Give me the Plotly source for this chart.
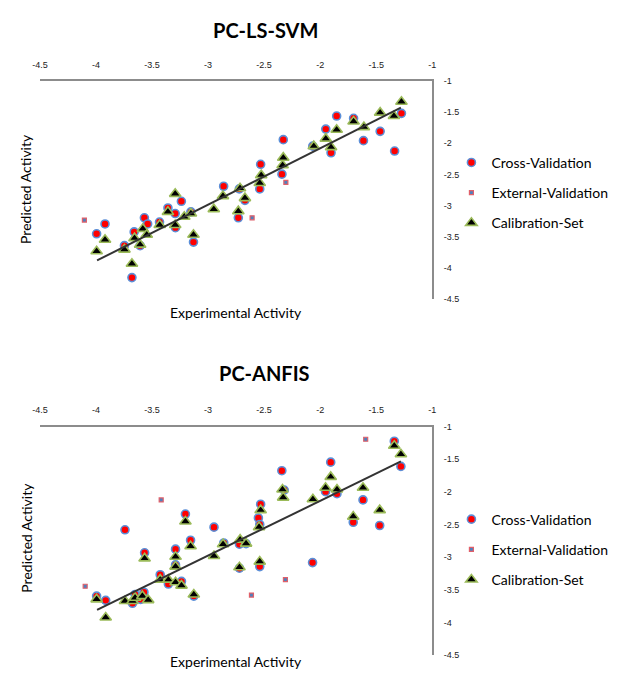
import plotly.graph_objects as go

W, H = 632, 678

# ---------------- PC-LS-SVM ----------------
svm_cv_x = [-3.919, -3.994, -3.568, -3.539, -3.659, -3.746, -3.606, -3.679, -3.433, -3.358,
            -3.293, -3.238, -3.291, -3.130, -2.861, -2.730, -2.721, -2.671, -3.153, -2.539,
            -2.531, -2.341, -2.329, -2.066, -1.903, -1.950, -1.853, -1.702, -1.614, -1.465,
            -1.336, -1.275]
svm_cv_y = [-3.295, -3.453, -3.196, -3.295, -3.422, -3.643, -3.643, -4.155, -3.264, -3.038,
            -3.128, -2.932, -3.354, -3.586, -2.690, -3.196, -2.733, -2.916, -3.101, -2.733,
            -2.338, -2.496, -1.943, -2.047, -2.153, -1.774, -1.564, -1.600, -1.959, -1.810,
            -2.126, -1.521]

svm_ext_x = [-4.103, -2.607, -2.306]
svm_ext_y = [-3.232, -3.196, -2.627]

svm_cal_x = [-3.994, -3.919, -3.746, -3.679, -3.656, -3.606, -3.582, -3.547, -3.431, -3.358,
             -3.293, -3.293, -3.212, -3.153, -3.130, -2.949, -2.867, -2.715, -2.671, -2.730,
             -2.539, -2.526, -2.335, -2.329, -2.057, -1.903, -1.950, -1.853, -1.702, -1.610,
             -1.465, -1.342, -1.275]
svm_cal_y = [-3.733, -3.548, -3.706, -3.934, -3.523, -3.627, -3.374, -3.469, -3.311, -3.101,
             -2.812, -3.311, -3.180, -3.128, -3.469, -3.058, -2.848, -2.722, -2.880, -3.090,
             -2.638, -2.512, -2.354, -2.232, -2.047, -2.063, -1.927, -1.785, -1.652, -1.742,
             -1.510, -1.564, -1.336]

svm_trend_x = [-3.99, -1.28]
svm_trend_y = [-3.88, -1.43]

# ---------------- PC-ANFIS ----------------
anfis_cv_x = [-3.994, -3.913, -3.674, -3.651, -3.601, -3.572, -3.741, -3.566, -3.427, -3.354,
              -3.290, -3.290, -3.237, -3.202, -3.156, -3.127, -2.947, -2.860, -2.720, -2.661,
              -2.720, -2.539, -2.531, -2.551, -2.539, -2.342, -2.321, -2.068, -1.952, -1.906,
              -1.850, -1.705, -1.618, -1.469, -1.339, -1.280]
anfis_cv_y = [-3.594, -3.659, -3.704, -3.569, -3.644, -3.534, -2.579, -2.931, -3.267, -3.409,
              -2.875, -3.116, -3.368, -2.338, -2.739, -3.594, -2.538, -2.780, -2.799, -2.790,
              -3.167, -3.142, -2.187, -2.398, -2.498, -1.674, -1.970, -3.081, -1.995, -1.543,
              -2.026, -2.463, -2.121, -2.513, -1.222, -1.608]

anfis_ext_x = [-4.096, -3.418, -2.613, -2.310, -1.594]
anfis_ext_y = [-3.443, -2.121, -3.579, -3.342, -1.192]

anfis_cal_x = [-3.994, -3.913, -3.741, -3.674, -3.651, -3.586, -3.534, -3.566, -3.427, -3.354,
               -3.290, -3.290, -3.290, -3.237, -3.202, -3.156, -3.127, -2.947, -2.866, -2.714,
               -2.661, -2.720, -2.539, -2.531, -2.545, -2.336, -2.330, -2.065, -1.952, -1.906,
               -1.850, -1.705, -1.618, -1.469, -1.339, -1.280]
anfis_cal_y = [-3.644, -3.922, -3.670, -3.670, -3.620, -3.594, -3.655, -3.017, -3.342, -3.342,
               -2.991, -3.142, -3.383, -3.433, -2.452, -2.830, -3.569, -2.980, -2.799, -2.730,
               -2.790, -3.152, -3.066, -2.278, -2.538, -1.961, -2.086, -2.112, -1.935, -1.769,
               -1.961, -2.377, -1.935, -2.278, -1.291, -1.422]

anfis_trend_x = [-3.99, -1.28]
anfis_trend_y = [-3.805, -1.532]

# ---------------- axes ----------------
tick_vals = [-4.5, -4, -3.5, -3, -2.5, -2, -1.5, -1]
tick_text = ["-4.5", "-4", "-3.5", "-3", "-2.5", "-2", "-1.5", "-1"]
series_names = ["Cross-Validation", "External-Validation", "Calibration-Set"]

CV_STYLE = dict(symbol="circle", size=8, color="#FF0000", line=dict(color="#5B8FD8", width=1.6))
EXT_STYLE = dict(symbol="square", size=4, color="#4F81BD", line=dict(color="#E0606A", width=1.2))
CAL_STYLE = dict(symbol="triangle-up", size=10, color="#000000", line=dict(color="#9BBB59", width=1.6))

fig = go.Figure()

def add_panel(cvx, cvy, exx, exy, clx, cly, tx, ty, xa, ya, leg):
    fig.add_trace(go.Scatter(x=cvx, y=cvy, mode="markers", name=series_names[0], marker=CV_STYLE,
                             xaxis=xa, yaxis=ya, legend=leg, legendgroup=leg + "a"))
    fig.add_trace(go.Scatter(x=exx, y=exy, mode="markers", name=series_names[1], marker=EXT_STYLE,
                             xaxis=xa, yaxis=ya, legend=leg, legendgroup=leg + "b"))
    fig.add_trace(go.Scatter(x=clx, y=cly, mode="markers", name=series_names[2], marker=CAL_STYLE,
                             xaxis=xa, yaxis=ya, legend=leg, legendgroup=leg + "c"))
    fig.add_trace(go.Scatter(x=tx, y=ty, mode="lines", line=dict(color="#333333", width=2),
                             showlegend=False, xaxis=xa, yaxis=ya, hoverinfo="skip"))

add_panel(svm_cv_x, svm_cv_y, svm_ext_x, svm_ext_y, svm_cal_x, svm_cal_y,
          svm_trend_x, svm_trend_y, "x", "y", "legend")
add_panel(anfis_cv_x, anfis_cv_y, anfis_ext_x, anfis_ext_y, anfis_cal_x, anfis_cal_y,
          anfis_trend_x, anfis_trend_y, "x2", "y2", "legend2")

AX_COMMON = dict(range=[-4.5, -1], showline=True, linecolor="#8C8C8C", linewidth=1.5,
                 showgrid=False, zeroline=False, ticks="", tickvals=tick_vals, ticktext=tick_text,
                 tickfont=dict(family="Liberation Sans", size=9, color="#222222"),
                 ticklabelstandoff=8, fixedrange=True)

xdom = [32.5 / W, 432.5 / W]
fig.update_layout(
    width=W, height=H,
    margin=dict(l=0, r=0, t=0, b=0),
    paper_bgcolor="white", plot_bgcolor="white",
    font=dict(family="Lato", color="#000000"),
    xaxis=dict(domain=xdom, anchor="y", side="top", **AX_COMMON),
    yaxis=dict(domain=[1 - 298.5 / H, 1 - 77 / H], anchor="x", side="right", **AX_COMMON),
    xaxis2=dict(domain=xdom, anchor="y2", side="top", **AX_COMMON),
    yaxis2=dict(domain=[1 - 660 / H, 1 - 428 / H], anchor="x2", side="right", **AX_COMMON),
    legend=dict(x=452 / W, y=1 - 144 / H, xanchor="left", yanchor="top",
                font=dict(family="Lato", size=14, color="#000000"),
                tracegroupgap=9, bgcolor="rgba(0,0,0,0)", itemsizing="trace"),
    legend2=dict(x=452 / W, y=1 - 506 / H, xanchor="left", yanchor="top",
                 font=dict(family="Lato", size=14, color="#000000"),
                 tracegroupgap=9, bgcolor="rgba(0,0,0,0)", itemsizing="trace"),
    showlegend=True,
)

def ann(text, px, py, size, bold=False, angle=0):
    fig.add_annotation(text=("<b>%s</b>" % text) if bold else text,
                       x=px / W, y=1 - py / H, xref="paper", yref="paper",
                       xanchor="center", yanchor="middle", showarrow=False, textangle=angle,
                       font=dict(family="Lato", size=size, color="#000000"))

ann("PC-LS-SVM", 262, 25, 20, bold=True)
ann("PC-ANFIS", 261, 374, 20, bold=True)
ann("Predicted Activity", 18, 187, 14, angle=-90)
ann("Predicted Activity", 18, 541, 14, angle=-90)
ann("Experimental Activity", 232, 312, 14)
ann("Experimental Activity", 232, 666, 14)

fig.write_html("out.html")
